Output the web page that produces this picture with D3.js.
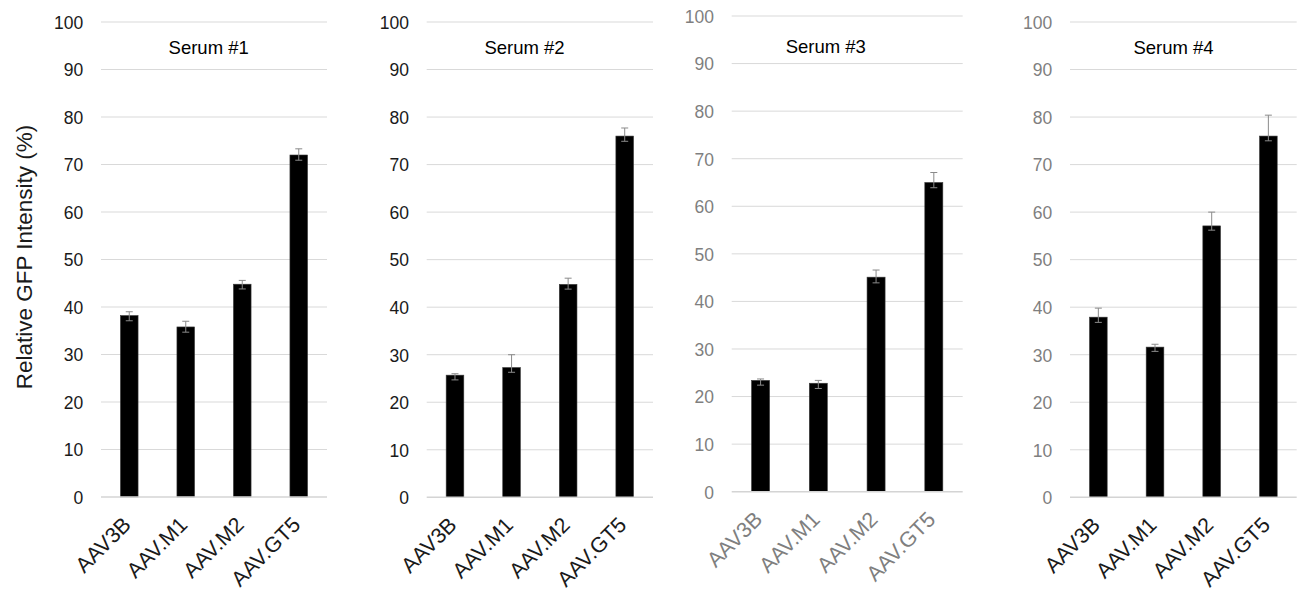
<!DOCTYPE html>
<html>
<head>
<meta charset="utf-8">
<script src="https://cdn.jsdelivr.net/npm/d3@7"></script>
<style>
  html, body { margin: 0; padding: 0; background: #fff; }
  svg { display: block; font-family: "Liberation Sans", Arial, sans-serif; }
</style>
</head>
<body>
<svg id="chart" width="1304" height="593"></svg>
<script>
// ---- data ----
const categories = ["AAV3B", "AAV.M1", "AAV.M2", "AAV.GT5"];
const serumTitles = ["Serum #1", "Serum #2", "Serum #3", "Serum #4"];
const yTicks = [0, 10, 20, 30, 40, 50, 60, 70, 80, 90, 100];
const yTitle = "Relative GFP Intensity (%)";

const serum1 = [38.2, 35.8, 44.8, 72.0];
const serum1ErrUp = [0.8, 1.2, 0.8, 1.3];
const serum1ErrDown = [1.1, 1.1, 1.0, 1.1];

const serum2 = [25.7, 27.3, 44.8, 76.0];
const serum2ErrUp = [0.3, 2.7, 1.3, 1.7];
const serum2ErrDown = [1.0, 1.0, 1.0, 1.1];

const serum3 = [23.4, 22.8, 45.1, 65.0];
const serum3ErrUp = [0.3, 0.6, 1.5, 2.1];
const serum3ErrDown = [1.0, 1.1, 1.2, 1.1];

const serum4 = [37.9, 31.6, 57.1, 76.0];
const serum4ErrUp = [1.9, 0.6, 2.9, 4.4];
const serum4ErrDown = [1.1, 0.9, 0.9, 1.0];

const seriesValues = [serum1, serum2, serum3, serum4];
const seriesErrUp = [serum1ErrUp, serum2ErrUp, serum3ErrUp, serum4ErrUp];
const seriesErrDown = [serum1ErrDown, serum2ErrDown, serum3ErrDown, serum4ErrDown];

// ---- layout (positions/styles) ----
const DARK = "#1a1a1a", GRAY = "#7f7f7f";
const panels = [
  { left: 101,   right: 327,    top: 22, bottom: 497,   titleX: 208.7,  titleY: 54.3, tickColor: DARK, labelColor: DARK },
  { left: 426.7, right: 653,    top: 22, bottom: 497.3, titleX: 524.5,  titleY: 54.3, tickColor: DARK, labelColor: DARK },
  { left: 731.7, right: 962.7,  top: 16, bottom: 491.7, titleX: 825.8,  titleY: 52.7, tickColor: GRAY, labelColor: GRAY },
  { left: 1070,  right: 1296.7, top: 22, bottom: 497.3, titleX: 1173.5, titleY: 54.3, tickColor: GRAY, labelColor: DARK }
];

const svg = d3.select("#chart");

panels.forEach((p, i) => {
  const values = seriesValues[i], up = seriesErrUp[i], down = seriesErrDown[i];
  const x = d3.scaleBand().domain(categories).range([p.left, p.right])
    .paddingInner(0.688).paddingOuter(0.344);
  const y = d3.scaleLinear().domain([0, 100]).range([p.bottom, p.top]);
  const g = svg.append("g");

  // gridlines
  g.selectAll("line.grid").data(yTicks.filter(t => t > 0)).enter().append("line")
    .attr("x1", p.left).attr("x2", p.right)
    .attr("y1", d => y(d)).attr("y2", d => y(d))
    .attr("stroke", "#d9d9d9").attr("stroke-width", 1);

  // y axis (tick labels only)
  const yAxis = d3.axisLeft(y).tickValues(yTicks).tickSize(0).tickPadding(17.7);
  const ya = g.append("g").attr("transform", `translate(${p.left},0)`).call(yAxis);
  ya.select(".domain").remove();
  ya.selectAll("text").attr("fill", p.tickColor).attr("font-size", 17.5)
    .attr("font-family", "Liberation Sans, Arial, sans-serif").attr("dy", "0.36em");

  // bars
  g.selectAll("rect.bar").data(categories).enter().append("rect")
    .attr("x", d => x(d)).attr("width", x.bandwidth())
    .attr("y", (d, j) => y(values[j])).attr("height", (d, j) => y(0) - y(values[j]))
    .attr("fill", "#000").attr("stroke", "#3a3a3a").attr("stroke-width", 0.6);

  // baseline
  g.append("line").attr("x1", p.left).attr("x2", p.right)
    .attr("y1", y(0)).attr("y2", y(0))
    .attr("stroke", "#d4d4d4").attr("stroke-width", 1.6);

  // error bars
  const eb = g.selectAll("g.err").data(categories).enter().append("g");
  const cx = d => x(d) + x.bandwidth() / 2;
  eb.append("line")
    .attr("x1", cx).attr("x2", cx)
    .attr("y1", (d, j) => y(values[j] + up[j])).attr("y2", (d, j) => y(values[j] - down[j]))
    .attr("stroke", "#8a8a8a").attr("stroke-width", 1);
  eb.append("line")
    .attr("x1", d => cx(d) - 3.5).attr("x2", d => cx(d) + 3.5)
    .attr("y1", (d, j) => y(values[j] + up[j])).attr("y2", (d, j) => y(values[j] + up[j]))
    .attr("stroke", "#8a8a8a").attr("stroke-width", 1);
  eb.append("line")
    .attr("x1", d => cx(d) - 3.5).attr("x2", d => cx(d) + 3.5)
    .attr("y1", (d, j) => y(values[j] - down[j])).attr("y2", (d, j) => y(values[j] - down[j]))
    .attr("stroke", "#8a8a8a").attr("stroke-width", 1);

  // x labels
  g.selectAll("text.xl").data(categories).enter().append("text")
    .attr("transform", d => `translate(${cx(d) + 3},${y(0) + 29}) rotate(-45)`)
    .attr("text-anchor", "end")
    .attr("font-size", 21.5)
    .attr("fill", p.labelColor)
    .text(d => d);

  // title
  g.append("text").attr("x", p.titleX).attr("y", p.titleY)
    .attr("text-anchor", "middle").attr("font-size", 18.5).attr("fill", "#000")
    .text(serumTitles[i]);
});

// y axis title
svg.append("text")
  .attr("transform", "translate(31.5,257) rotate(-90)")
  .attr("text-anchor", "middle").attr("font-size", 22.5).attr("fill", DARK)
  .text(yTitle);
</script>
</body>
</html>
